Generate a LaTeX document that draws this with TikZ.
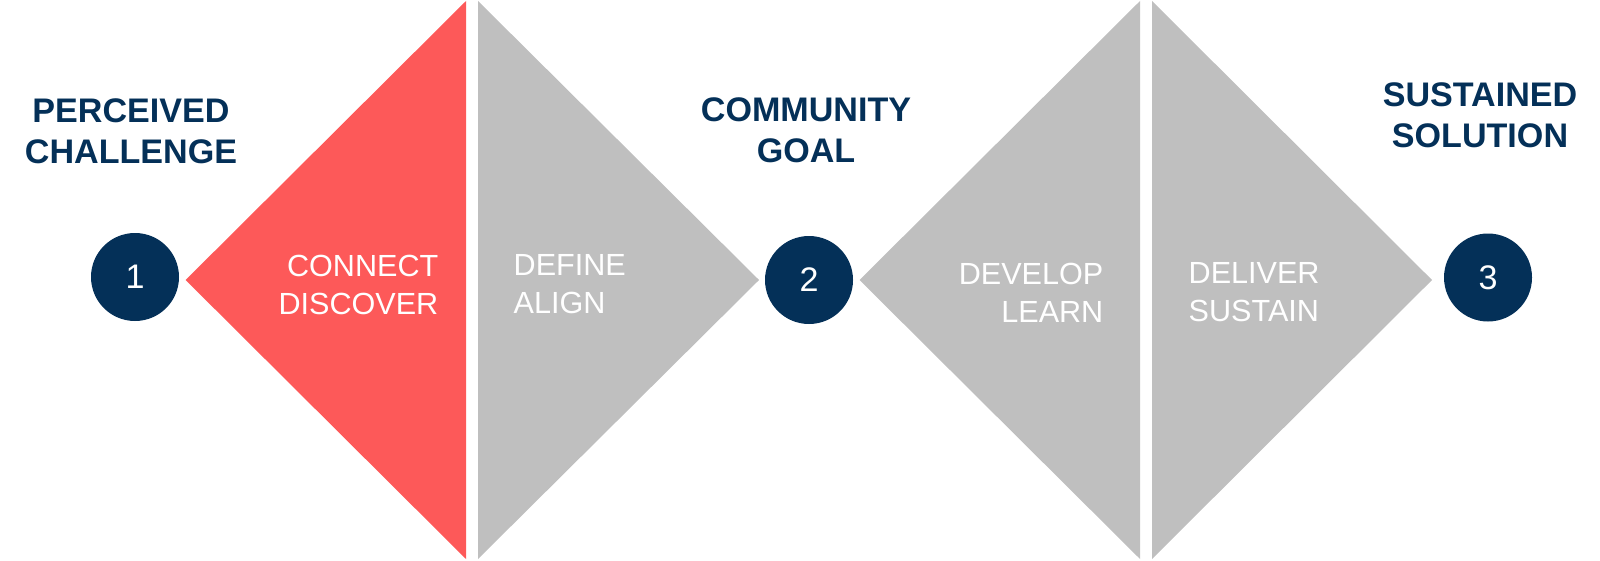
\documentclass[tikz,border=0pt]{standalone}
\usepackage{fontspec}
\setmainfont{Liberation Sans}
\usepackage{tikz}
\usetikzlibrary{positioning}
\definecolor{navy}{RGB}{4,48,88}
\definecolor{coral}{RGB}{253,89,89}
\definecolor{lgray}{RGB}{191,191,191}

\begin{document}
\begin{tikzpicture}[
    num/.style={circle, fill=navy, minimum size=0.88cm, inner sep=0, text=white, font=\fontsize{9.7}{11}\selectfont},
    head/.style={inner sep=0, align=center, text=navy, font=\bfseries\fontsize{9.7}{11.7}\selectfont},
    phase/.style={inner sep=0, text=white, font=\fontsize{8.7}{10.8}\selectfont}]
    \useasboundingbox (0,-2.8) rectangle (16,2.8);
    %% Triangles
    \fill[coral] (1.856,0) -- (4.66,2.79) -- (4.66,-2.79) -- cycle;
    \fill[lgray] (4.78,2.79) -- (7.59,0) -- (4.78,-2.79) -- cycle;
    \fill[lgray] (8.595,0) -- (11.40,2.79) -- (11.40,-2.79) -- cycle;
    \fill[lgray] (11.52,2.79) -- (14.32,0) -- (11.52,-2.79) -- cycle;
    %% Steps
    \node[num] (c1) at (1.35,0.03) {1};
    \node[num] (c2) at (8.09,0) {2};
    \node[num] (c3) at (14.88,0.025) {3};
    \node[head, above=0.68cm of c1, xshift=-0.04cm] (h1) {PERCEIVED\\CHALLENGE};
    \node[head, above=0.72cm of c2, xshift=-0.03cm] (h2) {COMMUNITY\\GOAL};
    \node[head, above=0.84cm of c3, xshift=-0.08cm] (h3) {SUSTAINED\\SOLUTION};
    %% Phases
    \node[phase, align=right, anchor=east] (p1) at (4.39,-0.045) {CONNECT\\DISCOVER};
    \node[phase, align=left, anchor=west] (p2) at (5.13,-0.045) {DEFINE\\ALIGN};
    \node[phase, align=right, anchor=east] (p3) at (11.04,-0.13) {DEVELOP\\LEARN};
    \node[phase, align=left, anchor=west] (p4) at (11.88,-0.12) {DELIVER\\SUSTAIN};
\end{tikzpicture}
\end{document}
